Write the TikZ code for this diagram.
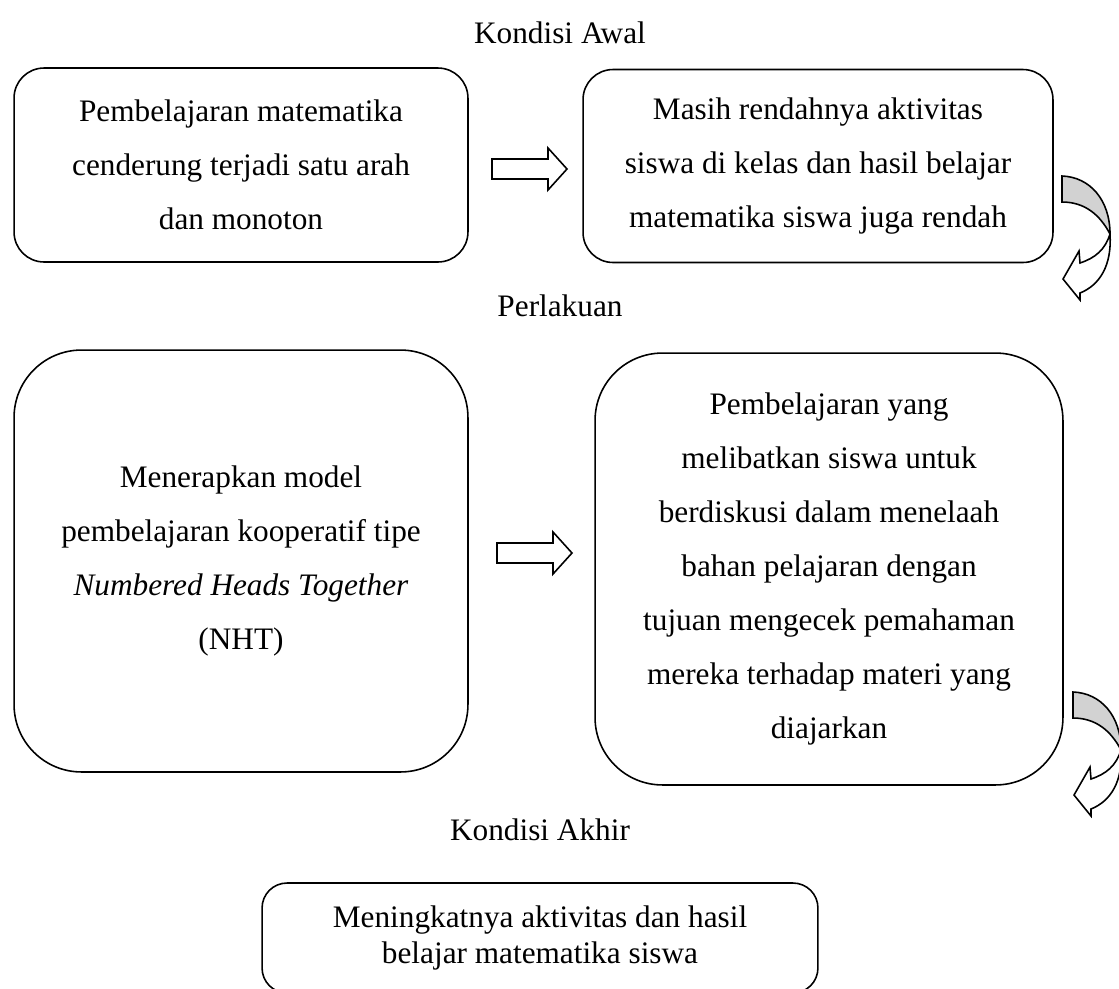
\documentclass[tikz,border=0pt]{standalone}
\usepackage{fontspec}
\setmainfont{Liberation Serif}
\usepackage{tikz}
\usetikzlibrary{positioning}
\newcommand{\bodyfont}{\fontsize{17.8}{30.7}\selectfont}
\newcommand{\tightfont}{\fontsize{17.8}{20.5}\selectfont}
\tikzstyle{box} = [rectangle, draw, line width=0.9pt, rounded corners=0.6cm, align=center, font=\bodyfont, inner sep=0pt]
\tikzstyle{bigbox} = [box, rounded corners=1.35cm]
\tikzstyle{heading} = [font=\bodyfont, inner sep=0pt]
\tikzstyle{blockarrow} = [draw, line width=0.9pt, fill=white, line join=miter]
\tikzstyle{turnback} = [draw, line width=0.9pt, fill=gray!35]
\tikzstyle{turnfront} = [draw, line width=0.9pt, fill=white]
% hollow right arrow, #1 = middle of its tail
\newcommand{\blockarrow}[1]{%
  \draw[blockarrow, shift={#1}] (0,-10) -- (56,-10) -- (56,-21) -- (75,0)
    -- (56,21) -- (56,10) -- (0,10) -- cycle;}
% ribbon arrow turning down, #1 = top of its tail
\newcommand{\turnarrow}[1]{%
  \begin{scope}[shift={#1}]
    \draw[turnback] (0,0) .. controls (28,1) and (48,24) .. (48,58)
      .. controls (38,39) and (23,26) .. (0,26) -- cycle;
    \draw[turnfront] (48,58) .. controls (43,74) and (33,82) .. (18,87)
      -- (17,75) -- (1,103) -- (18,124) -- (18,117)
      .. controls (38,109) and (50,89) .. (48,58) -- cycle;
  \end{scope}}

\begin{document}
\begin{tikzpicture}[x=0.02cm, y=-0.02cm]
\useasboundingbox (0,0) rectangle (1119,988);

% Kondisi awal
\node[heading] (awal) at (560,33) {Kondisi Awal};
\node[box, minimum width=9.08cm, minimum height=3.88cm] (monoton) at (241,165)
  {Pembelajaran matematika\\ cenderung terjadi satu arah\\ dan monoton};
\node[box, minimum width=9.4cm, minimum height=3.86cm] (rendah) at (818,166)
  {Masih rendahnya aktivitas\\ siswa di kelas dan hasil belajar\\ matematika siswa juga rendah};
\blockarrow{(492,169)}
\turnarrow{(1062,176)}

% Perlakuan
\node[heading] (perlakuan) at (560,306) {Perlakuan};
\node[bigbox, minimum width=9.08cm, minimum height=8.44cm] (nht) at (241,561)
  {Menerapkan model\\ pembelajaran kooperatif tipe\\ \textit{Numbered Heads Together}\\ (NHT)};
\node[bigbox, minimum width=9.36cm, minimum height=8.64cm] (diskusi) at (829,569)
  {Pembelajaran yang\\ melibatkan siswa untuk\\ berdiskusi dalam menelaah\\ bahan pelajaran dengan\\
   tujuan mengecek pemahaman\\ mereka terhadap materi yang\\ diajarkan};
\blockarrow{(497,553)}
\turnarrow{(1073,692)}

% Kondisi akhir
\node[heading] (akhir) at (540,830) {Kondisi Akhir};
\node[box, font=\tightfont, rounded corners=0.5cm, minimum width=11.12cm, minimum height=2.2cm] (hasil) at (540,938)
  {Meningkatnya aktivitas dan hasil\\ belajar matematika siswa};
\end{tikzpicture}
\end{document}
